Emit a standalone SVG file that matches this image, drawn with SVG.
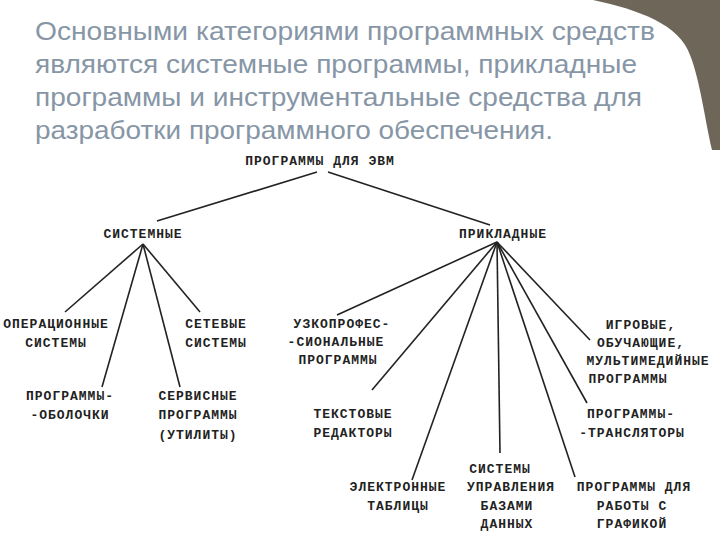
<svg xmlns="http://www.w3.org/2000/svg" width="720" height="540" viewBox="0 0 720 540">
<style>
.t{font-family:"Liberation Sans",Arial,sans-serif;font-size:25px;fill:#8796a6}
.n{font-family:"Liberation Mono","DejaVu Sans Mono",monospace;font-size:13px;font-weight:bold;letter-spacing:1px;fill:#222;text-anchor:middle}
.c line{stroke:#222;stroke-width:1.6}
</style>
<rect width="720" height="540" fill="#fff"/>
<path d="M593,0 C640,10 680,25 690,55 C700,80 705,120 712,150 L720,150 L720,0 Z" fill="#6f665a"/>
<g id="title">
<text class="t" x="35" y="40" textLength="620" lengthAdjust="spacingAndGlyphs">Основными категориями программных средств</text>
<text class="t" x="35" y="73" textLength="602" lengthAdjust="spacingAndGlyphs">являются системные программы, прикладные</text>
<text class="t" x="35" y="106" textLength="607" lengthAdjust="spacingAndGlyphs">программы и инструментальные средства для</text>
<text class="t" x="35" y="139" textLength="518" lengthAdjust="spacingAndGlyphs">разработки программного обеспечения.</text>
</g>
<g class="c" id="connectors">
<line x1="317" y1="172" x2="157" y2="221"/>
<line x1="328" y1="172" x2="490" y2="225"/>
<line x1="143" y1="244" x2="65" y2="312"/>
<line x1="143" y1="244" x2="102" y2="387"/>
<line x1="143" y1="244" x2="180" y2="387"/>
<line x1="143" y1="244" x2="200" y2="312"/>
<line x1="497" y1="242" x2="337" y2="315"/>
<line x1="497" y1="242" x2="372" y2="390"/>
<line x1="497" y1="242" x2="412" y2="480"/>
<line x1="497" y1="242" x2="500" y2="453"/>
<line x1="497" y1="242" x2="575" y2="477"/>
<line x1="497" y1="242" x2="587" y2="403"/>
<line x1="497" y1="242" x2="590" y2="340"/>
</g>
<g id="root"><text class="n" x="320" y="165">ПРОГРАММЫ ДЛЯ ЭВМ</text></g>
<g id="sys"><text class="n" x="143" y="238">СИСТЕМНЫЕ</text></g>
<g id="app"><text class="n" x="503" y="238">ПРИКЛАДНЫЕ</text></g>
<g id="os"><text class="n" x="56" y="328">ОПЕРАЦИОННЫЕ</text><text class="n" x="56" y="347">СИСТЕМЫ</text></g>
<g id="net"><text class="n" x="216" y="328">СЕТЕВЫЕ</text><text class="n" x="216" y="347">СИСТЕМЫ</text></g>
<g id="shell"><text class="n" x="70" y="400">ПРОГРАММЫ-</text><text class="n" x="70" y="419">-ОБОЛОЧКИ</text></g>
<g id="util"><text class="n" x="198" y="400">СЕРВИСНЫЕ</text><text class="n" x="198" y="419">ПРОГРАММЫ</text><text class="n" x="198" y="439">(УТИЛИТЫ)</text></g>
<g id="prof"><text class="n" x="342" y="328">УЗКОПРОФЕС-</text><text class="n" x="336" y="346">-СИОНАЛЬНЫЕ</text><text class="n" x="338" y="364">ПРОГРАММЫ</text></g>
<g id="text"><text class="n" x="353" y="418">ТЕКСТОВЫЕ</text><text class="n" x="353" y="437">РЕДАКТОРЫ</text></g>
<g id="sheet"><text class="n" x="398" y="491">ЭЛЕКТРОННЫЕ</text><text class="n" x="398" y="510">ТАБЛИЦЫ</text></g>
<g id="db"><text class="n" x="500" y="473">СИСТЕМЫ</text><text class="n" x="511" y="491">УПРАВЛЕНИЯ</text><text class="n" x="507" y="510">БАЗАМИ</text><text class="n" x="507" y="528">ДАННЫХ</text></g>
<g id="graph"><text class="n" x="634" y="491">ПРОГРАММЫ ДЛЯ</text><text class="n" x="632" y="510">РАБОТЫ С</text><text class="n" x="632" y="528">ГРАФИКОЙ</text></g>
<g id="games"><text class="n" x="641" y="329">ИГРОВЫЕ,</text><text class="n" x="641" y="347">ОБУЧАЮЩИЕ,</text><text class="n" x="648" y="365">МУЛЬТИМЕДИЙНЫЕ</text><text class="n" x="628" y="383">ПРОГРАММЫ</text></g>
<g id="trans"><text class="n" x="631" y="418">ПРОГРАММЫ-</text><text class="n" x="632" y="437">-ТРАНСЛЯТОРЫ</text></g>
</svg>
